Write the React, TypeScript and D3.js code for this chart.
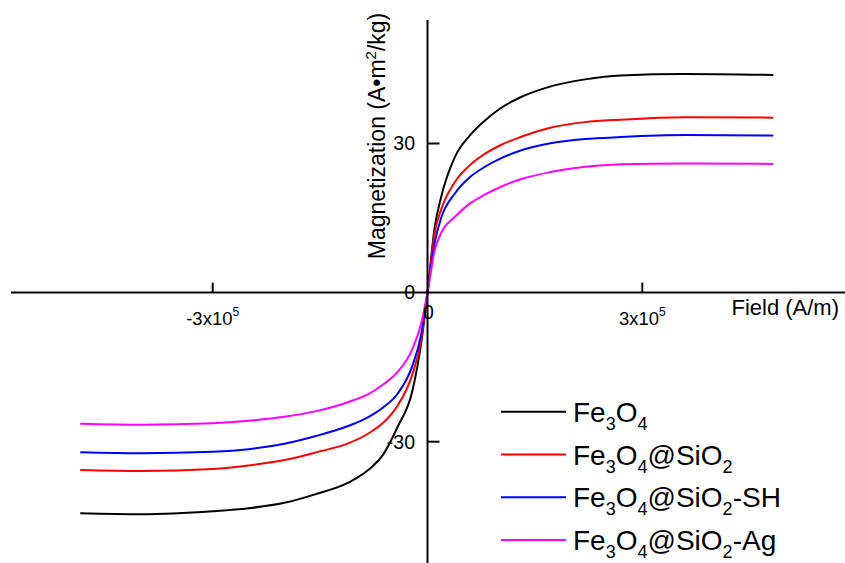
import React from "react";
import * as d3 from "d3";

const fieldValues = [-4.85e5, -4.0e5, -3.0e5, -2.5e5, -2.0e5, -1.57e5, -1.1e5, -0.82e5, -0.62e5, -0.42e5, -0.21e5, -0.09e5, 0, 0.1e5, 0.19e5, 0.38e5, 0.59e5, 0.8e5, 1.01e5, 1.3e5, 1.7e5, 2.2e5, 2.7e5, 3.6e5, 4.83e5];
const fe3o4 = [-44.4, -44.6, -44.0, -43.4, -42.3, -40.6, -38.2, -35.6, -32.6, -27.1, -19.7, -10.3, 0, 13.1, 19.2, 27.2, 31.6, 34.6, 37.0, 39.3, 41.4, 42.9, 43.7, 44.0, 43.8];
const fe3o4SiO2 = [-35.7, -35.9, -35.5, -34.8, -33.7, -32.2, -30.3, -28.3, -26.2, -22.8, -16.4, -9.7, 0, 12.0, 16.7, 22.2, 25.6, 27.9, 29.6, 31.3, 33.1, 34.3, 34.8, 35.3, 35.2];
const fe3o4SiO2SH = [-32.1, -32.3, -32.0, -31.5, -30.4, -28.9, -26.8, -25.0, -23.1, -20.4, -14.7, -8.5, 0, 10.0, 15.0, 19.9, 23.2, 25.3, 26.9, 28.6, 30.0, 30.9, 31.3, 31.7, 31.6];
const fe3o4SiO2Ag = [-26.4, -26.6, -26.3, -25.8, -25.0, -23.9, -22.0, -20.4, -18.5, -16.0, -11.3, -6.3, 0, 8.5, 12.0, 15.2, 17.9, 19.7, 21.2, 22.8, 24.2, 25.3, 25.8, 26.0, 25.9];

const seriesSuffixes = ["", "@SiO2", "@SiO2-SH", "@SiO2-Ag"];
const seriesColors = ["#000000", "#ff0000", "#0000ff", "#ff00ff"];
const seriesData = [fe3o4, fe3o4SiO2, fe3o4SiO2SH, fe3o4SiO2Ag];

const xTicks = [-3e5, 3e5];
const xTickMantissa = ["-3x10", "3x10"];
const xTickExp = ["5", "5"];
const yTicks = [-30, 30];

const FONT = "'Liberation Sans', Arial, Helvetica, sans-serif";

function LegendLabel({ idx, x, y }: { idx: number; x: number; y: number }) {
  const subSize = 18;
  const pieces: React.ReactNode[] = [];
  pieces.push(<tspan key="a">Fe</tspan>);
  pieces.push(<tspan key="b" fontSize={subSize} dy={8}>3</tspan>);
  pieces.push(<tspan key="c" dy={-8}>O</tspan>);
  pieces.push(<tspan key="d" fontSize={subSize} dy={8}>4</tspan>);
  const suf = seriesSuffixes[idx];
  if (suf) {
    const parts = suf.split("2");
    pieces.push(<tspan key="e" dy={-8}>{parts[0]}</tspan>);
    pieces.push(<tspan key="f" fontSize={subSize} dy={8}>2</tspan>);
    if (parts[1]) pieces.push(<tspan key="g" dy={-8}>{parts[1]}</tspan>);
  }
  return (
    <text x={x} y={y} fontSize={28} fontFamily={FONT} fill="#000">
      {pieces}
    </text>
  );
}

export default function App() {
  const W = 845;
  const H = 563;
  const x = d3.scaleLinear().domain([-3e5, 3e5]).range([212.7, 642.3]);
  const y = d3.scaleLinear().domain([-30, 30]).range([441.7, 143.5]);
  const x0 = x(0);
  const y0 = y(0);

  const line = d3
    .line<number>()
    .x((_, i) => x(fieldValues[i]))
    .y((d) => y(d))
    .curve(d3.curveMonotoneX);

  const legendX1 = 501;
  const legendX2 = 566;
  const legendY0 = 411.7;
  const legendStep = 42.8;

  return (
    <svg
      width={W}
      height={H}
      style={{ position: "absolute", left: 0, top: 0, background: "#fff" }}
      fontFamily={FONT}
    >
      <rect x={0} y={0} width={W} height={H} fill="#fff" />
      {seriesData.map((d, i) => (
        <path key={i} d={line(d) || ""} fill="none" stroke={seriesColors[i]} strokeWidth={2} strokeLinejoin="round" />
      ))}
      <line x1={11} x2={845} y1={y0} y2={y0} stroke="#000" strokeWidth={2} />
      <line x1={x0} x2={x0} y1={20} y2={563} stroke="#000" strokeWidth={2} />
      {xTicks.map((t, i) => (
        <g key={"xt" + i}>
          <line x1={x(t)} x2={x(t)} y1={y0} y2={y0 - 10} stroke="#000" strokeWidth={2} />
          <text x={x(t)} y={325} textAnchor="middle" fontSize={18.5} fill="#000">
            <tspan>{xTickMantissa[i]}</tspan>
            <tspan fontSize={12} dy={-9}>{xTickExp[i]}</tspan>
          </text>
        </g>
      ))}
      {yTicks.map((t, i) => (
        <g key={"yt" + i}>
          <line x1={x0} x2={x0 + 12} y1={y(t)} y2={y(t)} stroke="#000" strokeWidth={2} />
          <text x={415} y={y(t)} dy="0.35em" textAnchor="end" fontSize={19.5} fill="#000">
            {t}
          </text>
        </g>
      ))}
      <text x={415} y={y0} dy="0.35em" textAnchor="end" fontSize={19.5} fill="#000">0</text>
      <text x={x0 + 1} y={y0 + 20} dy="0.35em" textAnchor="middle" fontSize={19.5} fill="#000">0</text>
      <text x={839} y={315} textAnchor="end" fontSize={22} fill="#000">Field (A/m)</text>
      <text
        transform={`translate(377,136) rotate(-90)`}
        textAnchor="middle"
        dy="0.35em"
        fontSize={23}
        fill="#000"
      >
        <tspan>Magnetization (A•m</tspan>
        <tspan fontSize={15} dy={-9}>2</tspan>
        <tspan dy={9}>/kg)</tspan>
      </text>
      {seriesData.map((_, i) => (
        <g key={"lg" + i}>
          <line
            x1={legendX1}
            x2={legendX2}
            y1={legendY0 + i * legendStep}
            y2={legendY0 + i * legendStep}
            stroke={seriesColors[i]}
            strokeWidth={2}
          />
          <LegendLabel idx={i} x={573} y={legendY0 + i * legendStep + 10} />
        </g>
      ))}
    </svg>
  );
}
